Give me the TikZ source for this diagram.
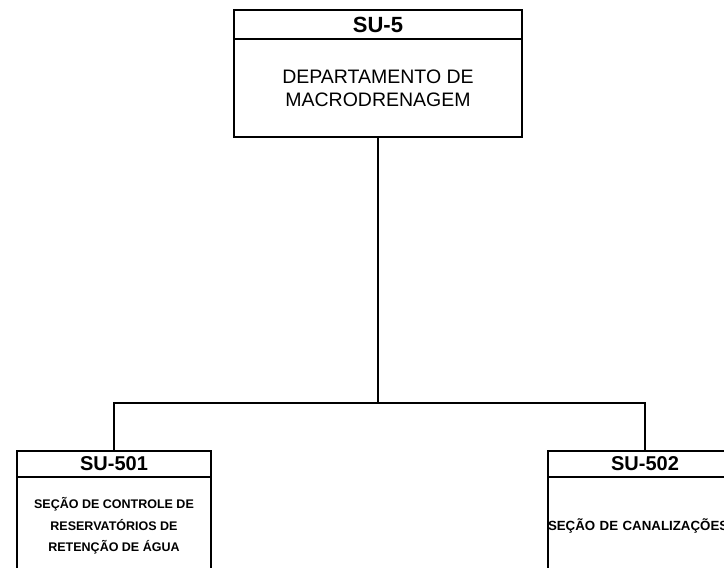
\documentclass[tikz,border=0pt]{standalone}
\usepackage{fontspec}
\setmainfont{Liberation Sans}
\usetikzlibrary{positioning}

\begin{document}
\begin{tikzpicture}[x=1pt, y=-1pt, line width=1.6pt,
        head/.style={draw, outer sep=0pt, inner sep=0pt, minimum width=194pt, minimum height=26pt, font=\fontsize{20}{24}\selectfont\bfseries},
        body/.style={draw, outer sep=0pt, inner sep=0pt, minimum width=194pt, minimum height=98pt, align=center, font=\fontsize{12.5}{21.5}\selectfont\bfseries}]
        \useasboundingbox (0,0) rectangle (724,568);
        \clip (0,0) rectangle (724,568);
        \node (su5) at (378,24.5) [head, minimum width=288pt, minimum height=29pt, font=\fontsize{22}{26}\selectfont\bfseries] {SU-5};
        \node (dep) [body, below=0pt of su5, minimum width=288pt, font=\fontsize{19.5}{23}\selectfont] {DEPARTAMENTO DE\\MACRODRENAGEM};
        \node (su501) at (114,464) [head] {SU-501};
        \node (sec501) [body, below=0pt of su501] {SEÇÃO DE CONTROLE DE\\RESERVATÓRIOS DE\\RETENÇÃO DE ÁGUA};
        \node (su502) at (645,464) [head] {SU-502};
        \node (sec502) [body, below=0pt of su502, text width=194pt, align=left, font=\fontsize{13.3}{21.5}\selectfont\bfseries] {SEÇÃO DE CANALIZAÇÕES};
        
        \coordinate (split) at (378,403);
        \draw (dep) -- (split);
        \draw (su501) |- (split) -| (su502);
    \end{tikzpicture}
\end{document}
